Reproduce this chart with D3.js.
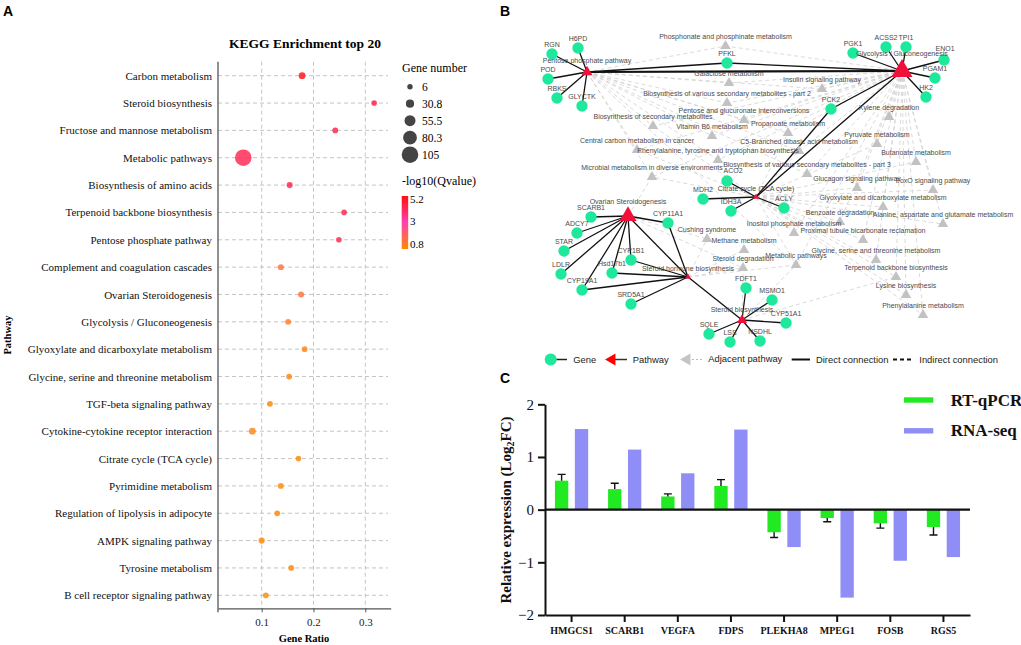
<!DOCTYPE html>
<html><head><meta charset="utf-8">
<script src="https://cdn.jsdelivr.net/npm/d3@7"></script>
<style>body{margin:0;background:#fff} svg{display:block}</style>
</head><body><svg id="c" width="1021" height="645"></svg>
<script>
// ---------- Panel A data ----------
const pathways = ["Carbon metabolism","Steroid biosynthesis","Fructose and mannose metabolism","Metabolic pathways","Biosynthesis of amino acids","Terpenoid backbone biosynthesis","Pentose phosphate pathway","Complement and coagulation cascades","Ovarian Steroidogenesis","Glycolysis / Gluconeogenesis","Glyoxylate and dicarboxylate metabolism","Glycine, serine and threonine metabolism","TGF-beta signaling pathway","Cytokine-cytokine receptor interaction","Citrate cycle (TCA cycle)","Pyrimidine metabolism","Regulation of lipolysis in adipocyte","AMPK signaling pathway","Tyrosine metabolism","B cell receptor signaling pathway"];
const geneRatio = [0.178,0.317,0.242,0.0645,0.154,0.259,0.249,0.137,0.176,0.151,0.183,0.153,0.116,0.082,0.171,0.137,0.130,0.100,0.157,0.108];
const geneNumber = [18,8,9,105,12,8,8,11,11,10,9,9,10,18,8,10,9,13,9,9];
const qValue = [5.2,4.5,4.4,4.3,4.4,4.4,4.3,1.6,1.5,1.2,1.0,1.0,0.95,0.95,0.9,0.9,0.85,0.85,0.85,0.8];
const ratioTicks = [0.1,0.2,0.3];
const sizeLegend = [6,30.8,55.5,80.3,105];
const colorTicks = [5.2,3,0.8];

// ---------- Panel B data ----------
const pathwayNodes = ["Pentose phosphate pathway","Glycolysis / Gluconeogenesis","Citrate cycle (TCA cycle)","Ovarian Steroidogenesis","Steroid hormone biosynthesis","Steroid biosynthesis"];
const pathwayScore = [10,20,5,16,5,9];
const geneLinks = [
 ["Pentose phosphate pathway",["H6PD","RGN","POD","RBKS","GLYCTK","PFKL"]],
 ["Glycolysis / Gluconeogenesis",["PFKL","PGK1","ACSS2","TPI1","ENO1","PGAM1","HK2","PCK2"]],
 ["Citrate cycle (TCA cycle)",["PCK2","ACO2","MDH2","IDH3A","ACLY"]],
 ["Ovarian Steroidogenesis",["SCARB1","ADCY7","STAR","LDLR","CYP19A1","CYP1B1","Hsd17b1","CYP11A1"]],
 ["Steroid hormone biosynthesis",["CYP11A1","CYP1B1","Hsd17b1","CYP19A1","SRD5A1"]],
 ["Steroid biosynthesis",["FDFT1","MSMO1","CYP51A1","NSDHL","SQLE","LSS"]]
];
const pathwayLinks = [["Pentose phosphate pathway","Glycolysis / Gluconeogenesis"],["Glycolysis / Gluconeogenesis","Citrate cycle (TCA cycle)"],["Ovarian Steroidogenesis","Steroid hormone biosynthesis"],["Steroid hormone biosynthesis","Steroid biosynthesis"]];
const adjacentNodes = ["Phosphonate and phosphinate metabolism","Galactose metabolism","Biosynthesis of various secondary metabolites - part 2","Pentose and glucuronate interconversions","Biosynthesis of secondary metabolites","Vitamin B6 metabolism","Central carbon metabolism in cancer","Phenylalanine, tyrosine and tryptophan biosynthesis","Microbial metabolism in diverse environments","Propanoate metabolism","C5-Branched dibasic acid metabolism","Biosynthesis of various secondary metabolites - part 3","Insulin signaling pathway","Xylene degradation","Pyruvate metabolism","Butanoate metabolism","Glucagon signaling pathway","FoxO signaling pathway","Glyoxylate and dicarboxylate metabolism","Benzoate degradation","Alanine, aspartate and glutamate metabolism","Inositol phosphate metabolism","Proximal tubule bicarbonate reclamation","Cushing syndrome","Methane metabolism","Steroid degradation","Metabolic pathways","Glycine, serine and threonine metabolism","Terpenoid backbone biosynthesis","Lysine biosynthesis","Phenylalanine metabolism"];
const indirectLinks = [
 ["Pentose phosphate pathway",[0,1,2,3,4,5,6,7,8,9,10,11,12,26]],
 ["Glycolysis / Gluconeogenesis",[0,1,2,3,4,5,6,7,8,9,10,11,12,13,14,15,16,17,18,19,20,21,22,26,27,28,29,30]],
 ["Citrate cycle (TCA cycle)",[4,6,8,9,10,14,15,16,17,18,19,20,21,22,26,27,28,29,30]],
 ["Ovarian Steroidogenesis",[8,23,25]],
 ["Steroid hormone biosynthesis",[23,24,25,26]],
 ["Steroid biosynthesis",[25,26,28]]
];
// network layout (abstract layout units)
const networkLayout = {
 "Pentose phosphate pathway":[47,42],"Glycolysis / Gluconeogenesis":[362,41],"Citrate cycle (TCA cycle)":[216,167],"Ovarian Steroidogenesis":[88,186],"Steroid hormone biosynthesis":[148,247],"Steroid biosynthesis":[202,290],
 "H6PD":[38,18],"RGN":[12,24],"POD":[8,49],"RBKS":[17,68],"GLYCTK":[42,76],"PFKL":[187,33],"PGK1":[313,23],"ACSS2":[346,17],"TPI1":[366,17],"ENO1":[404,30],"PGAM1":[395,48],"HK2":[386,67],"PCK2":[291,79],"ACO2":[187,151],"MDH2":[163,169],"IDH3A":[191,181],"ACLY":[244,178],"SCARB1":[51,187],"ADCY7":[37,203],"STAR":[24,221],"LDLR":[21,244],"CYP19A1":[42,260],"CYP1B1":[91,230],"Hsd17b1":[72,243],"SRD5A1":[91,274],"CYP11A1":[128,193],"FDFT1":[206,258],"MSMO1":[232,270],"CYP51A1":[246,293],"NSDHL":[220,311],"SQLE":[169,304],"LSS":[190,312],
 "a0":[185.5,16],"a1":[189,53],"a2":[187,73],"a3":[204,90],"a4":[113,96],"a5":[172,106],"a6":[97,120],"a7":[178,130],"a8":[112,147],"a9":[248,103],"a10":[259,121],"a11":[267,144],"a12":[282,59],"a13":[349,87],"a14":[337,114],"a15":[376,132],"a16":[317,158],"a17":[393,160],"a18":[343,177],"a19":[300,192],"a20":[403,194],"a21":[254,203],"a22":[323,210],"a23":[167,209],"a24":[204,220],"a25":[203,238],"a26":[256,235],"a27":[336,230],"a28":[356,247],"a29":[366,265],"a30":[383,285]
};
const legendB = ["Gene","Pathway","Adjacent pathway","Direct connection","Indirect connection"];

// ---------- Panel C data ----------
const genesC = ["HMGCS1","SCARB1","VEGFA","FDPS","PLEKHA8","MPEG1","FOSB","RGS5"];
const seriesC = ["RT-qPCR","RNA-seq"];
const qpcr = [0.55,0.39,0.25,0.45,-0.43,-0.16,-0.26,-0.33];
const qpcrErr = [0.12,0.11,0.05,0.12,0.10,0.07,0.09,0.15];
const rnaseq = [1.53,1.14,0.69,1.52,-0.71,-1.67,-0.97,-0.90];
const yTicksC = [-2,-1,0,1,2];

const svg = d3.select('#c');
const serif = "'Liberation Serif','Times New Roman',serif";
const sans = "'Liberation Sans',Arial,sans-serif";

// panel letters
[["A",3,16],["B",500,16],["C",500,383]].forEach(([t,x,y])=>svg.append('text').attr('x',x).attr('y',y).text(t).attr('font-family',sans).attr('font-weight','bold').attr('font-size',14));

// ================= Panel A =================
const A = svg.append('g');
const ax = d3.scaleLinear().domain([0.0157,0.349]).range([218,390.7]);
const ay = d3.scalePoint().domain(pathways).range([75.7,595.3]);
const ar = d3.scaleLinear().domain([6,105]).range([2.7,8.3]);
const ac = d3.scaleLinear().domain([0.8,3,5.2]).range(['#ff8a00','#ff40b0','#ff1010']);
const aTop = 61.7, aBot = 608.3;

A.append('text').attr('x',305).attr('y',48).attr('text-anchor','middle').attr('font-family',serif).attr('font-weight','bold').attr('font-size',13.5).text('KEGG Enrichment top 20');
// grid
A.selectAll('.hg').data(pathways).join('line').attr('x1',218).attr('x2',388).attr('y1',d=>ay(d)).attr('y2',d=>ay(d)).attr('stroke','#bdbdbd').attr('stroke-dasharray','4,3').attr('stroke-width',0.9);
A.selectAll('.vg').data(ratioTicks).join('line').attr('x1',d=>ax(d)).attr('x2',d=>ax(d)).attr('y1',aTop).attr('y2',aBot).attr('stroke','#bdbdbd').attr('stroke-dasharray','4,3').attr('stroke-width',0.9);
// axes
const xAxA = A.append('g').attr('transform',`translate(0,${aBot})`).call(d3.axisBottom(ax).tickValues(ratioTicks).tickFormat(d3.format('.1f')).tickSize(4).tickSizeOuter(0));
xAxA.select('.domain').attr('stroke','#555').attr('stroke-width',1.3);
xAxA.selectAll('.tick line').attr('stroke','#555');
xAxA.selectAll('text').attr('font-family',serif).attr('font-size',11).attr('fill','#222').attr('dy','0.95em');
A.append('line').attr('x1',218).attr('x2',218).attr('y1',aTop).attr('y2',aBot+4).attr('stroke','#555').attr('stroke-width',1.3);
const yAxA = A.append('g').attr('transform','translate(218,0)').call(d3.axisLeft(ay).tickSize(0).tickPadding(6));
yAxA.select('.domain').remove();
yAxA.selectAll('text').attr('font-family',serif).attr('font-size',11).attr('fill','#111');
A.append('text').attr('transform','translate(11,335) rotate(-90)').attr('text-anchor','middle').attr('font-family',serif).attr('font-weight','bold').attr('font-size',10.5).text('Pathway');
A.append('text').attr('x',304).attr('y',642).attr('text-anchor','middle').attr('font-family',serif).attr('font-weight','bold').attr('font-size',10.5).text('Gene Ratio');
// dots
A.selectAll('.dot').data(pathways).join('circle').attr('cx',(d,i)=>ax(geneRatio[i])).attr('cy',d=>ay(d)).attr('r',(d,i)=>ar(geneNumber[i])).attr('fill',(d,i)=>ac(qValue[i])).attr('fill-opacity',0.82);
// size legend
A.append('text').attr('x',402).attr('y',72).attr('font-family',serif).attr('font-size',12).text('Gene number');
const sl = d3.scalePoint().domain(sizeLegend).range([86.7,154.7]);
A.selectAll('.sl').data(sizeLegend).join('circle').attr('cx',410).attr('cy',d=>sl(d)).attr('r',d=>ar(d)).attr('fill','#444');
A.selectAll('.slt').data(sizeLegend).join('text').attr('x',422).attr('y',d=>sl(d)+4).attr('font-family',serif).attr('font-size',11.5).text(d=>d);
// color legend
A.append('text').attr('x',402).attr('y',184.5).attr('font-family',serif).attr('font-size',12).text('-log10(Qvalue)');
const defs = svg.append('defs');
const grad = defs.append('linearGradient').attr('id','qg').attr('x1',0).attr('x2',0).attr('y1',0).attr('y2',1);
[[0,5.2],[0.5,3],[1,0.8]].forEach(([o,v])=>grad.append('stop').attr('offset',o).attr('stop-color',ac(v)));
const cb = d3.scaleLinear().domain([5.2,0.8]).range([196,249]);
A.append('rect').attr('x',401.7).attr('y',cb(5.2)).attr('width',6.5).attr('height',cb(0.8)-cb(5.2)).attr('fill','url(#qg)');
A.selectAll('.ct').data(colorTicks).join('text').attr('x',410).attr('y',(d,i)=>[203,224.5,248][i]).attr('font-family',serif).attr('font-size',11).text(d=>d);

// ================= Panel B =================
const B = svg.append('g');
const bx = d3.scaleLinear().domain([0,460]).range([540,1000]);
const by = d3.scaleLinear().domain([0,320]).range([30,350]);
const P = n => networkLayout[n];
const pos = n => [bx(P(n)[0]), by(P(n)[1])];
const triPath = (cx,cy,s,dir) => {
  if(dir==='left') return `M${cx-s*0.577},${cy}L${cx+s*0.289},${cy-s/2}L${cx+s*0.289},${cy+s/2}Z`;
  return `M${cx},${cy-s*0.577}L${cx+s/2},${cy+s*0.289}L${cx-s/2},${cy+s*0.289}Z`;
};
const triSize = d3.scaleLinear().domain([5,20]).range([6,21]);
// indirect
const ind = [];
indirectLinks.forEach(([p,arr])=>arr.forEach(i=>ind.push([pos(p),pos('a'+i)])));
B.selectAll('.il').data(ind).join('line').attr('x1',d=>d[0][0]).attr('y1',d=>d[0][1]).attr('x2',d=>d[1][0]).attr('y2',d=>d[1][1]).attr('stroke','#d0d0d0').attr('stroke-width',0.8).attr('stroke-dasharray','4,3');
// direct
const dir = [];
geneLinks.forEach(([p,gs])=>gs.forEach(g=>dir.push([pos(p),pos(g),1.3])));
pathwayLinks.forEach(([a,b],i)=>dir.push([pos(a),pos(b),i===0?2.2:1.3]));
B.selectAll('.dl').data(dir).join('line').attr('x1',d=>d[0][0]).attr('y1',d=>d[0][1]).attr('x2',d=>d[1][0]).attr('y2',d=>d[1][1]).attr('stroke','#111').attr('stroke-width',d=>d[2]);
// adjacent triangles
B.selectAll('.at').data(adjacentNodes).join('path').attr('d',(d,i)=>{const p=pos('a'+i);return triPath(p[0],p[1],10.5);}).attr('fill','#c2c2c2');
// pathway triangles
B.selectAll('.pt').data(pathwayNodes).join('path').attr('d',(d,i)=>{const p=pos(d);return triPath(p[0],p[1],triSize(pathwayScore[i]));}).attr('fill','#f0103a');
// genes
const genesB = [...new Set(geneLinks.flatMap(d=>d[1]))];
B.selectAll('.gc').data(genesB).join('circle').attr('cx',d=>pos(d)[0]).attr('cy',d=>pos(d)[1]).attr('r',5.7).attr('fill','#1de89b');
// labels
const lab = (t,x,y)=>B.append('text').attr('x',x).attr('y',y).attr('text-anchor','middle').attr('font-family',sans).attr('font-size',7).attr('fill','#4a4a4a').text(t);
adjacentNodes.forEach((n,i)=>{const p=pos('a'+i); lab(n,p[0],p[1]-7);});
const labNudge = {"ENO1":[1,-2],"ACO2":[6,-1]};
genesB.forEach(n=>{const p=pos(n); const k=labNudge[n]||[0,0]; lab(n,p[0]+k[0],p[1]-7.5+k[1]);});
pathwayNodes.forEach((n,i)=>{const p=pos(n); lab(n,p[0],p[1]-triSize(pathwayScore[i])*0.577-2.5);});
// legend B
const Lg = B.append('g').attr('font-family',sans).attr('font-size',9.4).attr('fill','#222');
const ly = 359.5;
Lg.append('line').attr('x1',551).attr('x2',567).attr('y1',ly).attr('y2',ly).attr('stroke','#222').attr('stroke-width',1.5);
Lg.append('circle').attr('cx',550.7).attr('cy',ly).attr('r',6).attr('fill','#1de89b');
Lg.append('line').attr('x1',612).attr('x2',627).attr('y1',ly).attr('y2',ly).attr('stroke','#333').attr('stroke-width',1.5);
Lg.append('path').attr('d',triPath(612,ly,12,'left')).attr('fill','#ff0000');
Lg.append('line').attr('x1',688).attr('x2',702).attr('y1',ly).attr('y2',ly).attr('stroke','#bbb').attr('stroke-width',1).attr('stroke-dasharray','2,2');
Lg.append('path').attr('d',triPath(687,ly,12,'left')).attr('fill','#c4c4c4');
Lg.append('line').attr('x1',791.7).attr('x2',810).attr('y1',ly).attr('y2',ly).attr('stroke','#111').attr('stroke-width',2);
Lg.append('line').attr('x1',893).attr('x2',913).attr('y1',ly).attr('y2',ly).attr('stroke','#111').attr('stroke-width',2).attr('stroke-dasharray','4,3');
[[573.3,ly+3.3],[632.7,ly+3.3],[708.3,ly+2],[816,ly+3.3],[919.3,ly+3.3]].forEach(([x,y],i)=>Lg.append('text').attr('x',x).attr('y',y).text(legendB[i]));

// ================= Panel C =================
const C = svg.append('g');
const cxs = d3.scaleBand().domain(genesC).range([545,970]);
const cys = d3.scaleLinear().domain([-2,2]).range([615,404.3]);
const sub = d3.scaleBand().domain(seriesC).range([0,cxs.bandwidth()]).paddingInner(0.33).paddingOuter(0.5);
const colC = {"RT-qPCR":"#22ea22","RNA-seq":"#8e8ef6"};
const vals = {"RT-qPCR":qpcr,"RNA-seq":rnaseq};
seriesC.forEach(s=>{
  C.selectAll('.b'+s).data(genesC).join('rect')
   .attr('x',d=>cxs(d)+sub(s)).attr('width',sub.bandwidth())
   .attr('y',(d,i)=>Math.min(cys(vals[s][i]),cys(0))).attr('height',(d,i)=>Math.abs(cys(vals[s][i])-cys(0)))
   .attr('fill',colC[s]);
});
// error bars
C.selectAll('.eb').data(genesC).join('path').attr('d',(d,i)=>{
  const x = cxs(d)+sub('RT-qPCR')+sub.bandwidth()/2;
  const v = qpcr[i], e = v + Math.sign(v)*qpcrErr[i];
  return `M${x},${cys(v)}V${cys(e)}M${x-4},${cys(e)}H${x+4}`;
}).attr('stroke','#111').attr('stroke-width',1.4).attr('fill','none');
// axes
const yAxC = C.append('g').attr('transform','translate(545,0)').call(d3.axisLeft(cys).tickValues(yTicksC).tickSize(7).tickPadding(4).tickSizeOuter(0).tickFormat(d3.format('d')));
yAxC.select('.domain').attr('stroke','#111').attr('stroke-width',2);
yAxC.selectAll('.tick line').attr('stroke','#111').attr('stroke-width',2);
yAxC.selectAll('text').attr('font-family',serif).attr('font-size',15).attr('fill','#111');
const xAxC = C.append('g').attr('transform','translate(0,615)').call(d3.axisBottom(cxs).tickSize(7).tickPadding(5).tickSizeOuter(0));
xAxC.select('.domain').attr('stroke','#111').attr('stroke-width',2);
xAxC.selectAll('.tick line').attr('stroke','#111').attr('stroke-width',2);
xAxC.selectAll('text').attr('font-family',serif).attr('font-weight','bold').attr('font-size',10).attr('fill','#111');
C.append('line').attr('x1',545).attr('x2',970).attr('y1',cys(0)).attr('y2',cys(0)).attr('stroke','#111').attr('stroke-width',2.2);
const yl = C.append('text').attr('transform','translate(511,510) rotate(-90)').attr('text-anchor','middle').attr('font-family',serif).attr('font-weight','bold').attr('font-size',15).attr('fill','#111');
yl.append('tspan').text('Relative expression (Log');
yl.append('tspan').attr('font-size',10).attr('dy',3).text('2');
yl.append('tspan').attr('dy',-3).text('FC)');
// legend C
const legY = d3.scalePoint().domain(seriesC).range([400,430.8]);
seriesC.forEach(s=>{
  C.append('rect').attr('x',904).attr('y',legY(s)-2.7).attr('width',29.3).attr('height',5.4).attr('fill',colC[s]);
  C.append('text').attr('x',950.7).attr('y',legY(s)+5.5).attr('font-family',serif).attr('font-weight','bold').attr('font-size',17).attr('fill','#111').text(s);
});
</script></body></html>
